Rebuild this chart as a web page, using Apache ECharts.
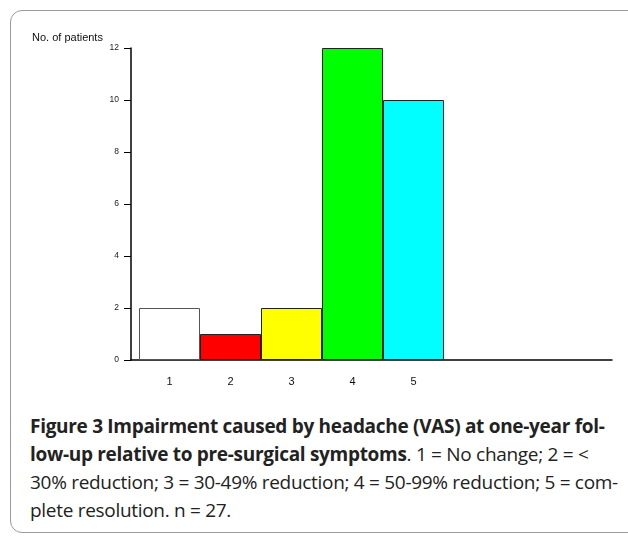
<!DOCTYPE html>
<html><head><meta charset="utf-8">
<script src="https://cdn.jsdelivr.net/npm/echarts@6/dist/echarts.min.js"></script>
<style>
html,body{margin:0;padding:0;background:#fff;width:628px;height:538px;overflow:hidden;}
#frame{position:absolute;left:10px;top:10px;width:640px;height:523px;border:1px solid #9a9a9a;border-radius:12px;box-sizing:border-box;}
#chart{position:absolute;left:0;top:0;width:628px;height:400px;}
#cap{position:absolute;left:30px;top:412px;font-family:"Open Sans",sans-serif;font-size:19px;line-height:28px;color:#222;white-space:nowrap;letter-spacing:-0.3px;}
#cap b{font-weight:700;}
</style></head>
<body>
<div id="frame"></div>
<div id="chart"></div>
<div id="cap"><b>Figure 3 Impairment caused by headache (VAS) at one-year fol-</b><br><b>low-up relative to pre-surgical symptoms</b>. 1 = No change; 2 = &lt;<br>30% reduction; 3 = 30-49% reduction; 4 = 50-99% reduction; 5 = com-<br>plete resolution. n = 27.</div>
<script>
const categories = ['1','2','3','4','5'];
const patients = [2, 1, 2, 12, 10];
const barColors = ['#ffffff','#ff0000','#ffff00','#00ff00','#00ffff'];
const yTicks = [0, 2, 4, 6, 8, 10, 12];

const chart = echarts.init(document.getElementById('chart'), null, {renderer:'canvas'});
chart.setOption({
  animation:false,
  title:{text:'No. of patients', left:27, top:27, textStyle:{fontFamily:'Liberation Sans', fontSize:11, fontWeight:'normal', color:'#111'}},
  grid:[
    {left:131, right:16, top:48, bottom:40},
    {left:139, width:305, top:48, bottom:40}
  ],
  xAxis:[
    {type:'value', gridIndex:0, min:0, max:1, axisLine:{show:true, lineStyle:{color:'#000', width:1.5}}, axisTick:{show:false}, axisLabel:{show:false}, splitLine:{show:false}},
    {type:'category', gridIndex:1, data:categories, axisLine:{show:false}, axisTick:{show:false},
     axisLabel:{margin:16, fontFamily:'Liberation Sans', fontSize:11, color:'#111'}}
  ],
  yAxis:[
    {type:'value', gridIndex:0, min:yTicks[0], max:yTicks[yTicks.length-1], interval:2,
     axisLine:{show:true, lineStyle:{color:'#000', width:1.5}},
     axisTick:{show:true, length:7, lineStyle:{color:'#000'}},
     axisLabel:{margin:12, fontFamily:'Liberation Sans', fontSize:8.5, color:'#222'},
     splitLine:{show:false}},
    {type:'value', gridIndex:1, min:yTicks[0], max:yTicks[yTicks.length-1], show:false}
  ],
  series:[{
    type:'bar', xAxisIndex:1, yAxisIndex:1, barCategoryGap:'0%',
    data: patients.map((v,i)=>({value:v, itemStyle:{color:barColors[i], borderColor: i===0?'#555':'#222', borderWidth:1}}))
  }]
});
</script>
</body></html>
